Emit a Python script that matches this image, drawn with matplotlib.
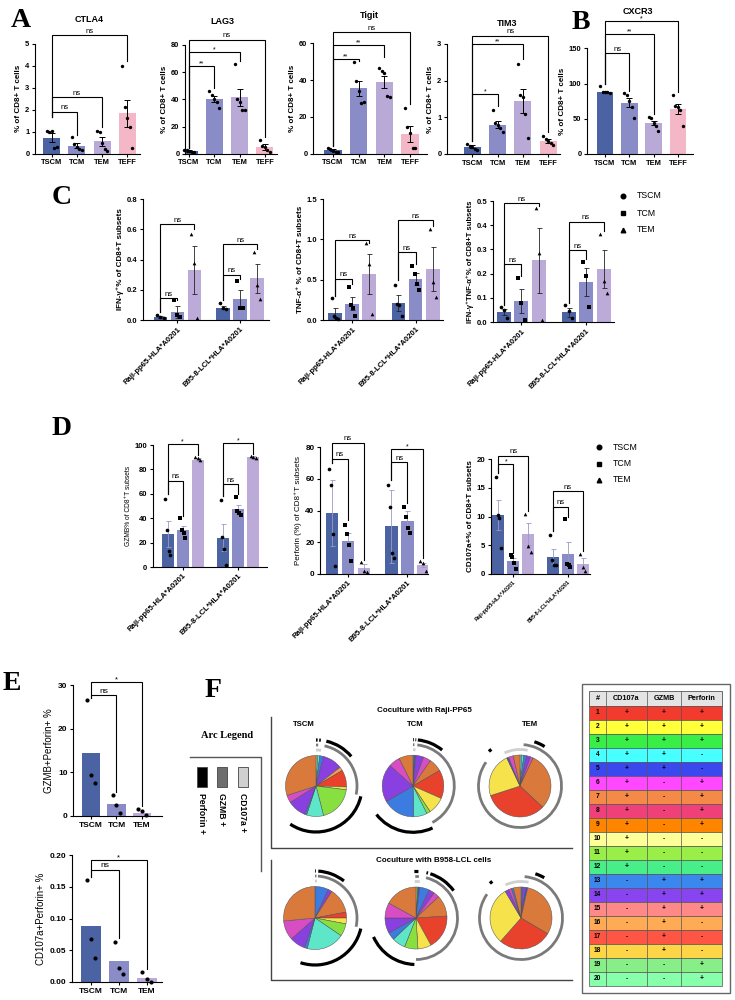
import numpy as np
import matplotlib
matplotlib.use("Agg")
import matplotlib.pyplot as plt
from matplotlib.patches import Arc, Rectangle
from matplotlib.ticker import FormatStrFormatter

plt.rcParams['font.family'] = ['Liberation Sans', 'DejaVu Sans']
plt.rcParams['axes.linewidth'] = 0.8
plt.rcParams['xtick.major.width'] = 0.8
plt.rcParams['ytick.major.width'] = 0.8
plt.rcParams['xtick.major.size'] = 2.5
plt.rcParams['ytick.major.size'] = 2.5
plt.rcParams['xtick.major.pad'] = 1.5
plt.rcParams['ytick.major.pad'] = 1.5

# ====================== DATA ======================
subsets4 = ["TSCM", "TCM", "TEM", "TEFF"]
subsets3 = ["TSCM", "TCM", "TEM"]
groups = ["Raji-pp65-HLA*A0201", "B95-8-LCL*HLA*A0201"]

# Panel A / B : means, error, points, significance (target, bracket y, drop y, label)
ctla4_mean = [0.73, 0.37, 0.57, 1.83]
ctla4_err = [0.2, 0.12, 0.2, 0.62]
ctla4_pts = [[1.05, 1.0, 1.05, 0.25, 0.3], [0.75, 0.45, 0.3, 0.2, 0.15],
             [1.05, 1.0, 0.5, 0.2, 0.1], [4.0, 2.1, 1.6, 1.2, 0.25]]
ctla4_sig = [(1, 1.9, 0.85, "ns"), (2, 2.56, 1.2, "ns"), (3, 5.39, 4.2, "ns")]
ctla4_base = 1.68

lag3_mean = [2.0, 40.2, 41.6, 5.0]
lag3_err = [0.5, 2.0, 6.3, 2.5]
lag3_pts = [[3, 3, 2, 1, 1], [46, 43, 40, 38, 34], [66, 40, 38, 32, 32], [10, 6, 5, 3, 1]]
lag3_sig = [(1, 64.5, 48, "**"), (2, 74.6, 68, "*"), (3, 84, 12, "ns")]
lag3_base = 4

tigit_mean = [1.8, 35.5, 39.1, 10.5]
tigit_err = [0.5, 4.0, 3.3, 4.3]
tigit_pts = [[3, 2.5, 1.5, 1, 1], [50, 39.5, 34.2, 27.7, 28.3],
             [46.4, 44.9, 44, 31.3, 31], [25, 14.7, 11, 2.9, 2.9]]
tigit_sig = [(1, 51.4, 50.6, "**"), (2, 59.4, 52.7, "**"), (3, 66, 27, "ns")]
tigit_base = 4

tim3_mean = [0.2, 0.8, 1.45, 0.35]
tim3_err = [0.04, 0.1, 0.33, 0.06]
tim3_pts = [[0.28, 0.22, 0.2, 0.15, 0.1], [1.2, 0.85, 0.8, 0.72, 0.6],
            [2.45, 1.6, 1.55, 1.1, 0.43], [0.5, 0.4, 0.35, 0.3, 0.25]]
tim3_sig = [(1, 1.64, 1.3, "*"), (2, 2.99, 2.6, "**"), (3, 3.23, 0.6, "ns")]
tim3_base = 0.35

cxcr3_mean = [88, 73, 44, 64]
cxcr3_err = [1.5, 6, 3.5, 7]
cxcr3_pts = [[97, 88, 88, 88, 87], [86, 84, 75, 67, 51], [52, 51, 44, 40, 33], [84, 68, 67, 62, 40]]
cxcr3_sig = [(1, 143, 90, "ns"), (2, 171, 57, "**"), (3, 189, 88, "*")]
cxcr3_base = 100

# Panel C
ifng_mean = [[0.02, 0.055, 0.33], [0.08, 0.14, 0.275]]
ifng_err = [[0.005, 0.04, 0.16], [0.01, 0.06, 0.095]]
ifng_pts = [[[0.03, 0.02, 0.01], [0.13, 0.03, 0.02], [0.57, 0.38, 0.01]],
            [[0.11, 0.08, 0.07], [0.26, 0.08, 0.08], [0.45, 0.23, 0.14]]]
ifng_sig = [[(1, 0.145, 0.135, "ns"), (2, 0.635, 0.6, "ns")],
            [(1, 0.3, 0.27, "ns"), (2, 0.5, 0.47, "ns")]]
ifng_base = [0.05, 0.13]

tnf_mean = [[0.09, 0.2, 0.57], [0.21, 0.51, 0.63]]
tnf_err = [[0.06, 0.08, 0.25], [0.1, 0.07, 0.27]]
tnf_pts = [[[0.27, 0.05, 0.03, 0.01], [0.41, 0.18, 0.15, 0.05], [0.95, 0.7, 0.07]],
           [[0.44, 0.2, 0.18, 0.05], [0.67, 0.57, 0.45, 0.37], [1.13, 0.47, 0.29]]]
tnf_sig = [[(1, 0.51, 0.45, "ns"), (2, 0.99, 0.96, "ns")],
           [(1, 0.84, 0.7, "ns"), (2, 1.24, 1.17, "ns")]]
tnf_base = [0.3, 0.5]

dbl_mean = [[0.04, 0.088, 0.255], [0.04, 0.165, 0.22]]
dbl_err = [[0.012, 0.05, 0.135], [0.018, 0.057, 0.078]]
dbl_pts = [[[0.062, 0.048, 0.015], [0.18, 0.078, 0.01], [0.47, 0.287, 0.007]],
           [[0.072, 0.045, 0.015], [0.25, 0.19, 0.06], [0.365, 0.17, 0.12]]]
dbl_sig = [[(1, 0.24, 0.19, "ns"), (2, 0.49, 0.48, "ns")],
           [(1, 0.297, 0.26, "ns"), (2, 0.415, 0.375, "ns")]]
dbl_base = [0.07, 0.08]

# Panel D
gzmb_mean = [[27, 30.5, 88], [24, 47.5, 90]]
gzmb_err = [[10.5, 3.5, 1.0], [11, 3, 0.6]]
gzmb_pts = [[[56, 30, 13, 10], [40, 30, 28, 24], [90, 89, 88]],
            [[55, 25, 15, 2], [57, 46, 44, 43], [91, 90, 89]]]
gzmb_sig = [[(1, 70.7, 42, "ns"), (2, 101, 92, "*")], [(1, 68, 60, "ns"), (2, 102, 93, "*")]]
gzmb_base = [60, 58]

perf_mean = [[38.5, 20.7, 4.0], [30, 33.5, 5.7]]
perf_err = [[21, 5, 2], [23, 6, 1.5]]
perf_pts = [[[66, 56, 25, 5], [31, 25, 18, 8], [7.5, 2, 1.5]],
            [[56, 42, 13, 10], [42, 36, 29, 26], [8, 7, 2]]]
perf_sig = [[(1, 72.7, 34, "ns"), (2, 82.7, 9, "ns")], [(1, 70.6, 45, "ns"), (2, 78.5, 10, "*")]]
perf_base = [70, 59]

cd107_mean = [[10.2, 2.2, 6.9], [3.0, 3.4, 1.8]]
cd107_err = [[2.6, 0.6, 1.9], [1.3, 2.1, 0.9]]
cd107_pts = [[[16.8, 10.3, 9.7, 4.6], [3.3, 3, 2, 0.8], [10.5, 4.8, 3.8]],
             [[6.7, 2.5, 1.6, 1.5], [9.6, 1.8, 1.5, 1.2], [3.5, 1.2, 0.6]]]
cd107_sig = [[(1, 19.1, 3.6, "*"), (2, 20.6, 11, "ns")], [(1, 11.7, 10, "ns"), (2, 14.4, 4, "ns")]]
cd107_base = [17.5, 7.5]

# Panel E
gp_mean = [14.5, 2.7, 0.8]
gp_pts = [[26.5, 9.4, 7.6], [4.7, 2.5, 0.8], [1.5, 1.2, 0.3]]
gp_sig = [(1, 27.6, 5.5, "ns"), (2, 30.6, 2.2, "*")]
gp_base = 27
cp_mean = [0.088, 0.033, 0.007]
cp_pts = [[0.16, 0.068, 0.038], [0.063, 0.022, 0.013], [0.016, 0.005, 0.0]]
cp_sig = [(1, 0.177, 0.07, "ns"), (2, 0.192, 0.02, "*")]
cp_base = 0.165

# Panel F pies (clockwise from 12 o'clock): colour keys and percentages
raji_tscm_cols = ['mi', 'cy', 'bl', 'pu', 'lo', 're', 'ye', 'gr', 'aq', 'bl', 'pu', 'ma', 'or']
raji_tscm_vals = [1, 1, 2, 10.5, 2, 9, 1.5, 19, 9, 1, 10, 4, 30]
raji_tcm_cols = ['bl', 'db', 'pu', 'ma', 'or', 're', 'ye', 'gr', 'aq', 'bl', 'pu', 'ma', 'or']
raji_tcm_vals = [0.8, 0.8, 4, 4, 7, 15, 9, 2, 7, 17, 20, 6, 7.4]
raji_tem_cols = ['cy', 'aq', 'bl', 'pu', 'ma', 'or', 're', 'ye', 'db', 'ma', 'or']
raji_tem_vals = [1, 1, 1.5, 2, 1.5, 30, 33, 23, 1, 2.5, 3.5]
b95_tscm_cols = ['bl', 'pu', 'or', 're', 'ye', 'gr', 'aq', 'bl', 'pu', 'ma', 'or']
b95_tscm_vals = [7, 2, 13, 3, 3, 6.5, 19.5, 1.5, 8, 10, 26.5]
b95_tcm_cols = ['gr', 'db', 'bl', 'pu', 'ma', 'or', 're', 'ye', 'gr', 'aq', 'bl', 'pu', 'ma', 'or']
b95_tcm_vals = [1, 1, 5, 3, 3, 11, 18, 7, 7, 7, 4, 8, 8, 17]
b95_tem_cols = ['bl', 'pu', 'db', 'or', 're', 'ye', 'pu', 'ma', 'bl', 'or']
b95_tem_vals = [1, 1.5, 1, 30, 28, 30, 2, 1.5, 1, 4]

# Arc spans (degrees, clockwise from 12 o'clock)
raji_tscm_perf = [(0, 2), (4, 6), (13, 50), (103, 214)]
raji_tscm_gzmb = [(0, 3), (12, 102)]
raji_tscm_cd107 = [(0, 8)]
raji_tcm_perf = [(0, 1), (3, 4), (6, 39), (155, 232)]
raji_tcm_gzmb = [(0, 2), (6, 152)]
raji_tcm_cd107 = [(0, 4)]
raji_tem_perf = [(18, 32), (318, 322)]
raji_tem_gzmb = [(5, 305)]
raji_tem_cd107 = [(-25, 12)]
b95_tscm_perf = [(0, 1), (4, 38), (103, 198)]
b95_tscm_gzmb = [(0, 2), (4, 102)]
b95_tscm_cd107 = [(0, 3)]
b95_tcm_perf = [(-2, 3), (13, 15), (18, 54), (182, 246)]
b95_tcm_gzmb = [(-1, 4), (14, 180)]
b95_tcm_cd107 = [(-2, 6)]
b95_tem_perf = [(18, 30), (318, 322)]
b95_tem_gzmb = [(5, 305)]
b95_tem_cd107 = [(-25, 12)]

# Table
table_ids = ["1", "2", "3", "4", "5", "6", "7", "8", "9", "10",
             "11", "12", "13", "14", "15", "16", "17", "18", "19", "20"]
table_cd107a = ['+'] * 12 + ['-'] * 8
table_gzmb = ['+', '+', '+', '+', '+', '-', '-', '-', '-', '-', '-', '-',
              '+', '+', '+', '+', '+', '+', '-', '-']
table_perforin = ['+', '+', '+', '-', '-', '+', '+', '+', '+', '-', '-', '-',
                  '+', '+', '+', '-', '-', '-', '+', '+']
table_colors = ['#f23a2e', '#ffff3a', '#3aee48', '#48ffff', '#3a48ee', '#ff48ff', '#f58a48',
                '#f0407a', '#ff8400', '#ffff99', '#99ee48', '#48ee88', '#3a88ee', '#8844ee',
                '#ff8888', '#ffaa55', '#ff5544', '#ffd548', '#88ee88', '#88ffaa']

# ====================== STYLE ======================
colors4 = ["#4b63a2", "#8a8cc8", "#b9a9d7", "#f4b7c7"]
colors3 = ["#4b63a2", "#8a8cc8", "#bcaad8"]
pie_pal = {'or': '#d97a3c', 'pu': '#8a40e0', 'bl': '#3c7ce0', 'aq': '#5ee6c8',
           'gr': '#88e040', 're': '#e8412c', 'ye': '#f6e24a', 'ma': '#d84cc4',
           'cy': '#5ce8e8', 'mi': '#7cf0a0', 'db': '#4a4ad0', 'lo': '#f0a050'}

W, H = 735, 1000
fig = plt.figure(figsize=(7.35, 10), dpi=100)


def add_ax(x0, x1, ytop, ybot):
    return fig.add_axes([x0 / W, 1 - ybot / H, (x1 - x0) / W, (ybot - ytop) / H])


def bold_ticks(ax, fs):
    for lab in ax.get_yticklabels() + ax.get_xticklabels():
        lab.set_fontweight('bold')
        lab.set_fontsize(fs)


def bracket(ax, x0, x1, y, y0, y1, lab, fs=5.5, lw=0.8):
    ax.plot([x0, x0, x1, x1], [y0, y, y, y1], color='black', lw=lw, clip_on=False,
            solid_joinstyle='miter', zorder=4)
    ax.annotate(lab, xy=((x0 + x1) / 2, y), xytext=(0, 0.3 if lab == 'ns' else -1.0),
                textcoords='offset points', ha='center', va='bottom', fontsize=fs,
                annotation_clip=False)


def prism(ax):
    ax.spines[['top', 'right']].set_visible(False)
    ax.patch.set_alpha(0)


def panel_A(box, xlim, means, errs, pts, sigs, base, ymax, yticks, ylabel):
    ax = add_ax(*box)
    prism(ax)
    x = np.arange(4)
    ax.bar(x, means, width=0.68, color=colors4, zorder=1)
    ax.errorbar(x, means, yerr=errs, fmt='none', ecolor='black', elinewidth=0.7,
                capsize=2.2, capthick=0.7, zorder=2)
    for i, p in enumerate(pts):
        offs = np.linspace(-0.2, 0.2, len(p))
        ax.scatter(x[i] + offs, p, s=6, color='black', zorder=3, clip_on=False, linewidths=0)
    for j, y, y1, lab in sigs:
        bracket(ax, 0, j, y, base, y1, lab, fs=5.5 if lab == 'ns' else 5)
    ax.set_xlim(*xlim)
    ax.set_ylim(0, ymax)
    ax.set_yticks(yticks)
    ax.set_xticks(x)
    ax.set_xticklabels(subsets4)
    ax.set_ylabel(ylabel, fontsize=5.8, fontweight='bold', labelpad=2)
    bold_ticks(ax, 5.4)
    return ax


ylab_A = "% of CD8+ T cells"
panel_A((35, 140, 43.7, 153.7), (-0.67, 3.51), ctla4_mean, ctla4_err, ctla4_pts, ctla4_sig,
        ctla4_base, 5, [0, 1, 2, 3, 4, 5], ylab_A)
panel_A((185, 277, 45, 153.7), (-0.16, 3.48), lag3_mean, lag3_err, lag3_pts, lag3_sig,
        lag3_base, 80, [0, 20, 40, 60, 80], ylab_A)
panel_A((313, 427, 43.4, 153.7), (-0.78, 3.66), tigit_mean, tigit_err, tigit_pts, tigit_sig,
        tigit_base, 60, [0, 20, 40, 60], ylab_A)
panel_A((447, 560, 44, 154), (-1.0, 3.47), tim3_mean, tim3_err, tim3_pts, tim3_sig,
        tim3_base, 3, [0, 1, 2, 3], ylab_A)
panel_A((587, 693, 48.3, 154), (-0.74, 3.62), cxcr3_mean, cxcr3_err, cxcr3_pts, cxcr3_sig,
        cxcr3_base, 150, [0, 50, 100, 150], ylab_A)

# ---------- grouped panels C / D ----------
pos = [[0, 1, 2], [3.7, 4.7, 5.7]]
markers = ['o', 's', '^']


def grouped(box, xlim, means, errs, pts, sigs, bases, ymax, yticks, ylabel, fmt,
            errc='#222222', ylab_bold=True, ylab_fs=5.8, xfs=5.5, tfs=5.5):
    ax = add_ax(*box)
    prism(ax)
    for g in range(2):
        for k in range(3):
            x = pos[g][k]
            ax.bar(x, means[g][k], width=0.8, color=colors3[k], zorder=1)
            ax.errorbar(x, means[g][k], yerr=errs[g][k], fmt='none', ecolor=errc,
                        elinewidth=0.6, capsize=1.8, capthick=0.6, zorder=2)
            p = pts[g][k]
            offs = np.linspace(-0.18, 0.18, len(p))
            ax.scatter(np.array([x] * len(p)) + offs, p, marker=markers[k], s=7,
                       color='black', zorder=3, clip_on=False, linewidths=0)
        for j, y, y1, lab in sigs[g]:
            bracket(ax, pos[g][0], pos[g][j], y, bases[g], y1, lab,
                    fs=5.6 if lab == 'ns' else 5)
    ax.set_xlim(*xlim)
    ax.set_ylim(0, ymax)
    ax.set_yticks(yticks)
    ax.yaxis.set_major_formatter(FormatStrFormatter(fmt))
    ax.set_xticks([pos[0][1], pos[1][1]])
    ax.set_xticklabels(groups, rotation=45, ha='right', rotation_mode='anchor')
    ax.set_ylabel(ylabel, fontsize=ylab_fs, fontweight='bold' if ylab_bold else 'normal',
                  labelpad=2)
    bold_ticks(ax, tfs)
    for lab in ax.get_xticklabels():
        lab.set_fontsize(xfs)
    return ax


grouped((143, 269, 199, 320), (-1.03, 6.4), ifng_mean, ifng_err, ifng_pts, ifng_sig, ifng_base,
        0.8, [0, 0.2, 0.4, 0.6, 0.8], "IFN-γ⁺% of CD8+T subsets", '%.1f')
grouped((323, 443, 199, 320), (-0.7, 6.3), tnf_mean, tnf_err, tnf_pts, tnf_sig, tnf_base,
        1.5, [0, 0.5, 1.0, 1.5], "TNF-α⁺ % of CD8+T subsets", '%.1f')
grouped((493, 614, 201, 322), (-0.63, 6.3), dbl_mean, dbl_err, dbl_pts, dbl_sig, dbl_base,
        0.5, [0, 0.1, 0.2, 0.3, 0.4, 0.5], "IFN-γ⁺TNF-α⁺% of CD8+T subsets", '%.1f',
        ylab_fs=5.5)

grouped((153, 267, 445, 567), (-0.97, 6.6), gzmb_mean, gzmb_err, gzmb_pts, gzmb_sig, gzmb_base,
        100, [0, 20, 40, 60, 80, 100], "GZMB% of CD8⁺T subsets", '%d', errc='#9a9ac4',
        ylab_bold=False, ylab_fs=4.8, xfs=5.6)
grouped((320, 428, 447, 574), (-0.75, 6.0), perf_mean, perf_err, perf_pts, perf_sig, perf_base,
        80, [0, 20, 40, 60, 80], "Perforin (%) of CD8⁺T subsets", '%d', errc='#9a9ac4',
        ylab_bold=False, ylab_fs=5.8, xfs=5.6, tfs=5.9)
grouped((491, 590, 459, 574), (-0.5, 6.2), cd107_mean, cd107_err, cd107_pts, cd107_sig,
        cd107_base, 20, [0, 5, 10, 15, 20], "CD107a+% of CD8+T subsets", '%d', errc='#9a9ac4',
        ylab_fs=5.8, xfs=3.9, tfs=5.7)

# ---------- Panel E ----------
def panel_E(box, xlim, means, pts, sigs, base, ymax, yticks, ylabel, fmt):
    ax = add_ax(*box)
    prism(ax)
    x = np.arange(3)
    ax.bar(x, means, width=0.72, color=colors3, zorder=1)
    for i, p in enumerate(pts):
        offs = np.linspace(-0.15, 0.15, len(p))
        ax.scatter(x[i] + offs, p, s=9, color='black', zorder=3, clip_on=False, linewidths=0)
    for j, y, y1, lab in sigs:
        bracket(ax, 0, j, y, base, y1, lab, fs=6 if lab == 'ns' else 5.5)
    ax.set_xlim(*xlim)
    ax.set_ylim(0, ymax)
    ax.set_yticks(yticks)
    ax.yaxis.set_major_formatter(FormatStrFormatter(fmt))
    ax.set_xticks(x)
    ax.set_xticklabels(subsets3)
    ax.set_ylabel(ylabel, fontsize=7, labelpad=3)
    bold_ticks(ax, 6)
    return ax


panel_E((73, 162, 685, 816), (-0.7, 2.78), gp_mean, gp_pts, gp_sig, gp_base, 30,
        [0, 10, 20, 30], "GZMB+Perforin+ %", '%d')
panel_E((72, 162, 855, 982), (-0.68, 2.55), cp_mean, cp_pts, cp_sig, cp_base, 0.20,
        [0, 0.05, 0.10, 0.15, 0.20], "CD107a+Perforin+ %", '%.2f')

# ====================== OVERLAY ======================
ov = fig.add_axes([0, 0, 1, 1], zorder=10)
ov.patch.set_alpha(0)


def Y(y):
    return H - y


serif = ['Liberation Serif', 'DejaVu Serif']
for let, x, y in [("A", 11, 27), ("B", 572, 29), ("C", 52, 204), ("D", 52, 435),
                  ("E", 3, 690), ("F", 205, 697)]:
    ov.text(x, Y(y), let, fontsize=20, fontweight='bold', family=serif, ha='left',
            va='baseline')

for t, x, y in [("CTLA4", 89, 20), ("LAG3", 222, 22), ("Tigit", 369, 15),
                ("TIM3", 507, 24), ("CXCR3", 638, 11)]:
    ov.text(x, Y(y), t, fontsize=6.5, fontweight='bold', ha='center', va='center')

# legends C & D
for (lx, ly0, dy) in [(623, 196, 17), (599, 447, 16.5)]:
    for k, name in enumerate(subsets3):
        ov.plot([lx], [Y(ly0 + k * dy)], marker=markers[k], color='black', ms=3.3, ls='none')
        ov.text(lx + 14, Y(ly0 + k * dy), name, fontsize=6.3, ha='left', va='center')

# ---------- Panel F ----------
ov.text(227, Y(735), "Arc Legend", fontsize=7.5, fontweight='bold', family=serif,
        ha='center', va='center')
ov.plot([190, 261, 261], [Y(757), Y(757), Y(871)], color='#555555', lw=1.0)
for x0, c, lab in [(197, '#000000', "Perforin +"), (217, '#6e6e6e', "GZMB +"),
                   (238, '#d0d0d0', "CD107a +")]:
    ov.add_patch(Rectangle((x0, Y(787)), 10, 20, facecolor=c, edgecolor='#444444', lw=0.6))
    ov.text(x0 + 5, Y(793), lab, rotation=-90, fontsize=6.2, fontweight='bold',
            ha='center', va='top')

# frames
ov.plot([271, 271, 572], [Y(717), Y(848), Y(848)], color='#444444', lw=1.0)
ov.plot([271, 271, 572], [Y(860), Y(980), Y(980)], color='#444444', lw=1.0)
ov.text(424, Y(710), "Coculture with Raji-PP65", fontsize=5.8, fontweight='bold',
        ha='center', va='center')
ov.text(434, Y(861), "Coculture with B958-LCL cells", fontsize=5.8, fontweight='bold',
        ha='center', va='center')
for t, x in [("TSCM", 304), ("TCM", 415), ("TEM", 530)]:
    ov.text(x, Y(725), t, fontsize=5.6, fontweight='bold', ha='center', va='center')

pies = [
    (316, 786, 30.5, raji_tscm_cols, raji_tscm_vals, raji_tscm_perf, raji_tscm_gzmb, raji_tscm_cd107),
    (413, 786, 30.8, raji_tcm_cols, raji_tcm_vals, raji_tcm_perf, raji_tcm_gzmb, raji_tcm_cd107),
    (520, 786, 31.0, raji_tem_cols, raji_tem_vals, raji_tem_perf, raji_tem_gzmb, raji_tem_cd107),
    (315, 918, 31.5, b95_tscm_cols, b95_tscm_vals, b95_tscm_perf, b95_tscm_gzmb, b95_tscm_cd107),
    (416, 918, 31.0, b95_tcm_cols, b95_tcm_vals, b95_tcm_perf, b95_tcm_gzmb, b95_tcm_cd107),
    (521, 918, 31.0, b95_tem_cols, b95_tem_vals, b95_tem_perf, b95_tem_gzmb, b95_tem_cd107),
]


def arcs(cx, cy, r, spans, color, lw):
    for a1, a2 in spans:
        ov.add_patch(Arc((cx, Y(cy)), 2 * r, 2 * r, theta1=90 - a2, theta2=90 - a1,
                         color=color, lw=lw, capstyle='butt'))


for cx, cy, r, cols, vals, pf, gz, cd in pies:
    ov.pie(vals, colors=[pie_pal[c] for c in cols], startangle=90, counterclock=False,
           center=(cx, Y(cy)), radius=r,
           wedgeprops=dict(edgecolor='#505050', linewidth=0.35))
    arcs(cx, cy, r + 5.5, cd, '#cfcfcf', 2.0)
    arcs(cx, cy, r + 10.5, gz, '#7a7a7a', 2.0)
    arcs(cx, cy, r + 15.5, pf, '#000000', 2.3)

# table
ov.add_patch(Rectangle((582, Y(993)), 148, 309, facecolor='white', edgecolor='#666666', lw=1.0))
col_x = [589, 606, 647, 681, 722]
head_top, head_bot, row_h = 691, 705.5, 14.02
ov.add_patch(Rectangle((col_x[0], Y(head_bot)), col_x[-1] - col_x[0], head_bot - head_top,
                       facecolor='#e4e4e4', edgecolor='#555555', lw=0.6))
for i, t in enumerate(["#", "CD107a", "GZMB", "Perforin"]):
    ov.text((col_x[i] + col_x[i + 1]) / 2, Y((head_top + head_bot) / 2), t, fontsize=5.2,
            fontweight='bold', ha='center', va='center')
for r_i in range(len(table_ids)):
    y0 = head_bot + r_i * row_h
    ov.add_patch(Rectangle((col_x[0], Y(y0 + row_h)), col_x[-1] - col_x[0], row_h,
                           facecolor=table_colors[r_i], edgecolor='#555555', lw=0.5))
    vals_row = [table_ids[r_i], table_cd107a[r_i], table_gzmb[r_i], table_perforin[r_i]]
    for i, t in enumerate(vals_row):
        ov.text((col_x[i] + col_x[i + 1]) / 2, Y(y0 + row_h / 2), t, fontsize=4.8,
                fontweight='bold', ha='center', va='center')
for xx in col_x[1:-1]:
    ov.plot([xx, xx], [Y(head_top), Y(head_bot + 20 * row_h)], color='#555555', lw=0.5)

ov.set_xlim(0, W)
ov.set_ylim(0, H)
ov.set_aspect('auto')
ov.axis('off')

fig.savefig("out.png", dpi=100)
